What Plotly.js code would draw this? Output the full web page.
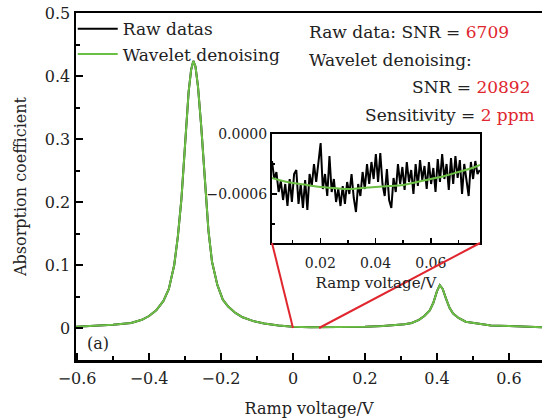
<!DOCTYPE html>
<html>
<head>
<meta charset="utf-8">
<script src="https://cdn.plot.ly/plotly-3.0.1.min.js"></script>
<style>html,body{margin:0;padding:0;background:#fff;}#chart{width:542px;height:419px;}</style>
</head>
<body>
<div id="chart"></div>
<script>
// ---- Main spectrum ----
const mainX = [-0.603,-0.55,-0.50,-0.45,-0.42,-0.40,-0.38,-0.36,-0.345,-0.33,-0.32,-0.31,-0.30,-0.29,-0.283,-0.277,-0.271,-0.264,-0.255,-0.245,-0.235,-0.225,-0.21,-0.195,-0.18,-0.16,-0.14,-0.11,-0.08,-0.04,0,0.05,0.10,0.15,0.20,0.25,0.28,0.31,0.33,0.35,0.365,0.38,0.39,0.40,0.408,0.416,0.425,0.435,0.445,0.46,0.48,0.51,0.55,0.60,0.65,0.692];
const rawY = [0.002,0.003,0.005,0.008,0.013,0.019,0.028,0.043,0.062,0.100,0.145,0.205,0.290,0.375,0.410,0.424,0.415,0.383,0.320,0.235,0.155,0.105,0.068,0.045,0.034,0.024,0.017,0.011,0.007,0.004,0.002,0.001,0.001,0.0015,0.002,0.003,0.004,0.006,0.008,0.013,0.019,0.028,0.040,0.058,0.068,0.062,0.047,0.032,0.023,0.016,0.010,0.007,0.004,0.003,0.002,0.001];
const waveletY = [0.002,0.003,0.005,0.008,0.013,0.019,0.028,0.043,0.062,0.100,0.145,0.205,0.290,0.375,0.410,0.424,0.415,0.383,0.320,0.235,0.155,0.105,0.068,0.045,0.034,0.024,0.017,0.011,0.007,0.004,0.002,0.001,0.001,0.0015,0.002,0.003,0.004,0.006,0.008,0.013,0.019,0.028,0.040,0.058,0.068,0.062,0.047,0.032,0.023,0.016,0.010,0.007,0.004,0.003,0.002,0.001];

// ---- Inset (zoomed baseline), x in V, y in units of 1e-5 ----
const insetRawX = [0.0025,0.0033,0.0041,0.0049,0.0057,0.0065,0.0073,0.0081,0.0089,0.0097,0.0105,0.0113,0.0121,0.0129,0.0137,0.0145,0.0153,0.0161,0.0169,0.0177,0.0185,0.0193,0.0201,0.0209,0.0217,0.0225,0.0233,0.0241,0.0249,0.0257,0.0265,0.0273,0.0281,0.0289,0.0297,0.0305,0.0313,0.0321,0.0329,0.0337,0.0345,0.0353,0.0361,0.0369,0.0377,0.0385,0.0393,0.0401,0.0409,0.0417,0.0425,0.0433,0.0441,0.0449,0.0457,0.0465,0.0473,0.0481,0.0489,0.0497,0.0505,0.0513,0.0521,0.0529,0.0537,0.0545,0.0553,0.0561,0.0569,0.0577,0.0585,0.0593,0.0601,0.0609,0.0617,0.0625,0.0633,0.0641,0.0649,0.0657,0.0665,0.0673,0.0681,0.0689,0.0697,0.0705,0.0713,0.0721,0.0729,0.0737,0.0745,0.0753,0.0761,0.0769,0.0777];
const insetRawY = [-27,-45,-38,-58,-47,-66,-50,-72,-45,-68,-40,-36,-70,-50,-74,-46,-76,-40,-52,-30,-48,-25,-9,-55,-40,-62,-22,-58,-45,-68,-55,-72,-52,-70,-48,-60,-40,-64,-78,-50,-62,-38,-55,-30,-50,-28,-45,-20,-48,-19,-50,-62,-35,-66,-74,-44,-58,-30,-50,-33,-56,-28,-48,-36,-60,-30,-52,-26,-46,-32,-55,-28,-50,-34,-58,-25,-48,-20,-45,-30,-56,-24,-50,-22,-44,-26,-60,-30,-48,-62,-28,-45,-27,-40,-36];
const insetWavX = [0.0025,0.005,0.010,0.015,0.020,0.025,0.030,0.035,0.040,0.045,0.050,0.055,0.060,0.065,0.070,0.075,0.0778];
const insetWavY = [-44,-46,-49,-51,-53,-54,-55,-54,-53,-52,-51,-48,-45,-42,-38,-34,-31];
const insetScale = 1e-5;

// zoom window marked on main axis
const zoomFrom = 0.0;
const zoomTo = 0.0725;

const FONT = "DejaVu Serif";
const GREEN = "#6cbf45";
const RED = "#e0262e";

const xr = [-0.603, 0.692];
const yr = [-0.0508, 0.5];
const W = 542, H = 419, mL = 76, mR = 0, mT = 13, mB = 59;
const pw = W - mL - mR, ph = H - mT - mB;
const px = v => (v - mL) / pw;
const py = v => (H - mB - v) / ph;
const dx = v => (v - xr[0]) / (xr[1] - xr[0]);
const dy = v => (v - yr[0]) / (yr[1] - yr[0]);

const insetDom = {x: [px(272), px(480)], y: [py(243), py(134)]};

const traces = [
  {x: mainX, y: rawY, type: 'scatter', mode: 'lines', name: 'Raw datas', line: {color: '#000', width: 2}},
  {x: mainX, y: waveletY, type: 'scatter', mode: 'lines', name: 'Wavelet denoising', line: {color: GREEN, width: 2}},
  {x: insetRawX, y: insetRawY.map(v => v * insetScale), xaxis: 'x2', yaxis: 'y2', type: 'scatter', mode: 'lines', showlegend: false, line: {color: '#000', width: 2}},
  {x: insetWavX, y: insetWavY.map(v => v * insetScale), xaxis: 'x2', yaxis: 'y2', type: 'scatter', mode: 'lines', showlegend: false, line: {color: GREEN, width: 2, shape: 'spline'}}
];

const axBase = {showgrid: false, zeroline: false, showline: true, linecolor: '#000', mirror: true, ticks: 'inside', tickcolor: '#000', tickfont: {family: FONT, size: 16, color: '#222'}};

const layout = {
  width: W, height: H,
  margin: {l: mL, r: mR, t: mT, b: mB},
  paper_bgcolor: '#fff', plot_bgcolor: '#fff',
  font: {family: FONT, color: '#222'},
  showlegend: true,
  legend: {x: -0.007, y: 1.005, xanchor: 'left', yanchor: 'top', bgcolor: 'rgba(0,0,0,0)', itemwidth: 40, font: {family: FONT, size: 17, color: '#222'}, tracegroupgap: 0},
  xaxis: Object.assign({}, axBase, {range: xr, dtick: 0.2, tick0: 0, linewidth: 2.5, ticklen: 7, tickwidth: 2, ticklabelstandoff: 2,
    minor: {dtick: 0.1, ticks: 'inside', ticklen: 4, tickwidth: 2, tickcolor: '#000'},
    title: {text: 'Ramp voltage/V', font: {family: FONT, size: 16, color: '#222'}, standoff: 16}}),
  yaxis: Object.assign({}, axBase, {range: yr, dtick: 0.1, tick0: 0, linewidth: 2.5, ticklen: 7, tickwidth: 2,
    minor: {dtick: 0.05, ticks: 'inside', ticklen: 4, tickwidth: 2, tickcolor: '#000'},
    title: {text: 'Absorption coefficient', font: {family: FONT, size: 16, color: '#222'}, standoff: 14}}),
  xaxis2: Object.assign({}, axBase, {domain: insetDom.x, anchor: 'y2', range: [0.0025, 0.0778], tickvals: [0.02, 0.04, 0.06], ticktext: ['0.02','0.04','0.06'],
    linewidth: 2, ticklen: 5, tickwidth: 1.5, ticklabelstandoff: 6, tickfont: {family: FONT, size: 14, color: '#222'},
    minor: {tickvals: [0.01, 0.03, 0.05, 0.07], ticks: 'inside', ticklen: 3, tickwidth: 1.5, tickcolor: '#000'},
    title: {text: 'Ramp voltage/V', font: {family: FONT, size: 15, color: '#222'}, standoff: 8}}),
  yaxis2: Object.assign({}, axBase, {domain: insetDom.y, anchor: 'x2', range: [-0.00109, 0], tickvals: [0, -0.0006], tickformat: '.4f',
    linewidth: 2, ticklen: 5, tickwidth: 1.5, tickfont: {family: FONT, size: 14, color: '#222'},
    minor: {tickvals: [-0.0003, -0.0009], ticks: 'inside', ticklen: 3, tickwidth: 1.5, tickcolor: '#000'}}),
  shapes: [
    {type: 'line', xref: 'paper', yref: 'paper', x0: insetDom.x[0], y0: insetDom.y[0], x1: dx(zoomFrom), y1: dy(0), line: {color: RED, width: 2}},
    {type: 'line', xref: 'paper', yref: 'paper', x0: insetDom.x[1], y0: insetDom.y[0], x1: dx(zoomTo), y1: dy(0), line: {color: RED, width: 2}}
  ],
  annotations: [
    {xref: 'paper', yref: 'paper', x: px(307), y: py(32), xanchor: 'left', yanchor: 'middle', showarrow: false,
      text: 'Raw data: SNR = <span style="color:' + RED + '">6709</span>', font: {family: FONT, size: 17, color: '#222'}},
    {xref: 'paper', yref: 'paper', x: px(307), y: py(60), xanchor: 'left', yanchor: 'middle', showarrow: false,
      text: 'Wavelet denoising:', font: {family: FONT, size: 17, color: '#222'}},
    {xref: 'paper', yref: 'paper', x: px(532), y: py(87), xanchor: 'right', yanchor: 'middle', showarrow: false,
      text: 'SNR = <span style="color:' + RED + '">20892</span>', font: {family: FONT, size: 17, color: '#222'}},
    {xref: 'paper', yref: 'paper', x: px(537), y: py(115), xanchor: 'right', yanchor: 'middle', showarrow: false,
      text: 'Sensitivity = <span style="color:' + RED + '">2 ppm</span>', font: {family: FONT, size: 17, color: '#222'}},
    {xref: 'paper', yref: 'paper', x: px(98), y: py(343), xanchor: 'center', yanchor: 'middle', showarrow: false,
      text: '(a)', font: {family: FONT, size: 16, color: '#222'}}
  ]
};

Plotly.newPlot('chart', traces, layout, {displayModeBar: false, staticPlot: true});
</script>
</body>
</html>
